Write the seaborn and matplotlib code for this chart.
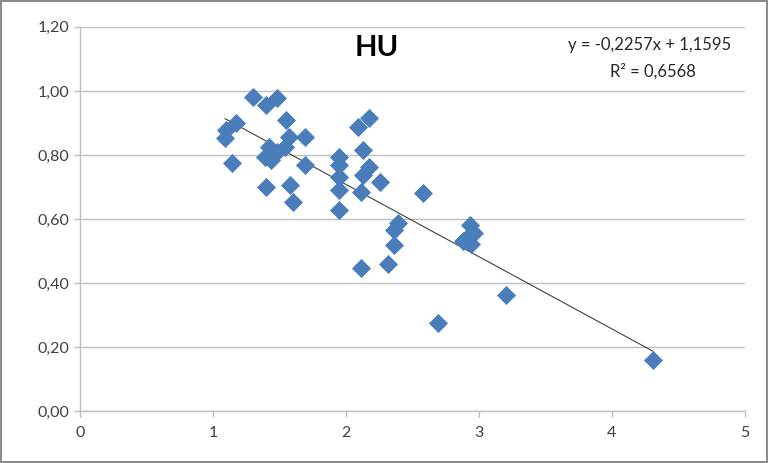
import matplotlib
matplotlib.use("Agg")
import matplotlib.pyplot as plt
import seaborn as sns
import numpy as np
import pandas as pd
from matplotlib.ticker import FuncFormatter

x_vals = [1.30, 1.40, 1.48, 1.55, 1.17, 1.10, 1.09, 1.57, 1.69, 1.42,
          1.48, 1.39, 1.44, 1.54, 1.14, 1.69, 1.40, 1.58, 1.60,
          2.09, 2.17, 1.95, 1.95, 1.95, 1.95, 1.95, 2.13, 2.17, 2.13,
          2.11, 2.26, 2.39, 2.36, 2.36, 2.11, 2.32,
          2.58, 2.93, 2.96, 2.91, 2.94, 2.88, 3.20, 2.69, 4.31]
y_vals = [0.982, 0.956, 0.977, 0.909, 0.899, 0.878, 0.852, 0.857, 0.857, 0.826,
          0.81, 0.795, 0.784, 0.826, 0.774, 0.769, 0.70, 0.706, 0.654,
          0.888, 0.915, 0.795, 0.769, 0.732, 0.69, 0.628, 0.816, 0.763, 0.738,
          0.685, 0.717, 0.587, 0.566, 0.519, 0.446, 0.461,
          0.68, 0.58, 0.555, 0.54, 0.522, 0.53, 0.3625, 0.276, 0.159]

slope = -0.2257
intercept = 1.1595
r2 = 0.6568
title = "HU"
eq_text = "y = -0,2257x + 1,1595"
r2_text = "R² = 0,6568"

df = pd.DataFrame({"x": x_vals, "y": y_vals})

sns.set_theme(style="white")
plt.rcParams['font.family'] = ['Lato', 'DejaVu Sans']

fig = plt.figure(figsize=(7.68, 4.63), dpi=100)
fig.patch.set_facecolor("white")
fig.patch.set_edgecolor("#8c8c8c")
fig.patch.set_linewidth(1.5)
ax = fig.add_axes([0.104, 0.112, 0.866, 0.830])

# trendline
xl = np.array([min(x_vals), max(x_vals)])
ax.plot(xl, slope * xl + intercept, color="#404040", linewidth=0.8, zorder=2)

sns.scatterplot(data=df, x="x", y="y", marker="D", s=95, color="#4a7ebb",
                edgecolor="#4a7ebb", linewidth=0, ax=ax, zorder=3)

ax.set_xlim(0, 5)
ax.set_ylim(0, 1.2)
ax.set_xticks(range(0, 6))
ax.set_yticks(np.arange(0, 1.21, 0.2))
ax.yaxis.set_major_formatter(FuncFormatter(lambda v, p: f"{v:.2f}".replace(".", ",")))
ax.set_xlabel("")
ax.set_ylabel("")
ax.grid(axis="y", color="#bfbfbf", linewidth=1.0)
ax.set_axisbelow(True)
for s in ["top", "right"]:
    ax.spines[s].set_visible(False)
for s in ["left", "bottom"]:
    ax.spines[s].set_color("#bfbfbf")
    ax.spines[s].set_linewidth(1.0)
ax.tick_params(axis="both", which="major", length=4, width=1, color="#bfbfbf",
               labelsize=11.5, labelcolor="#404040", direction="out",
               bottom=True, left=True)
ax.tick_params(axis="x", pad=7)

ax.text(0.447, 0.945, title, transform=ax.transAxes, ha="center", va="center",
        fontsize=21, fontweight="bold", color="black")
ax.text(0.857, 0.953, eq_text, transform=ax.transAxes, ha="center", va="center",
        fontsize=12, color="#262626")
ax.text(0.862, 0.883, r2_text, transform=ax.transAxes, ha="center", va="center",
        fontsize=12, color="#262626")

fig.savefig("out.png", dpi=100, facecolor=fig.get_facecolor(), edgecolor=fig.get_edgecolor())
